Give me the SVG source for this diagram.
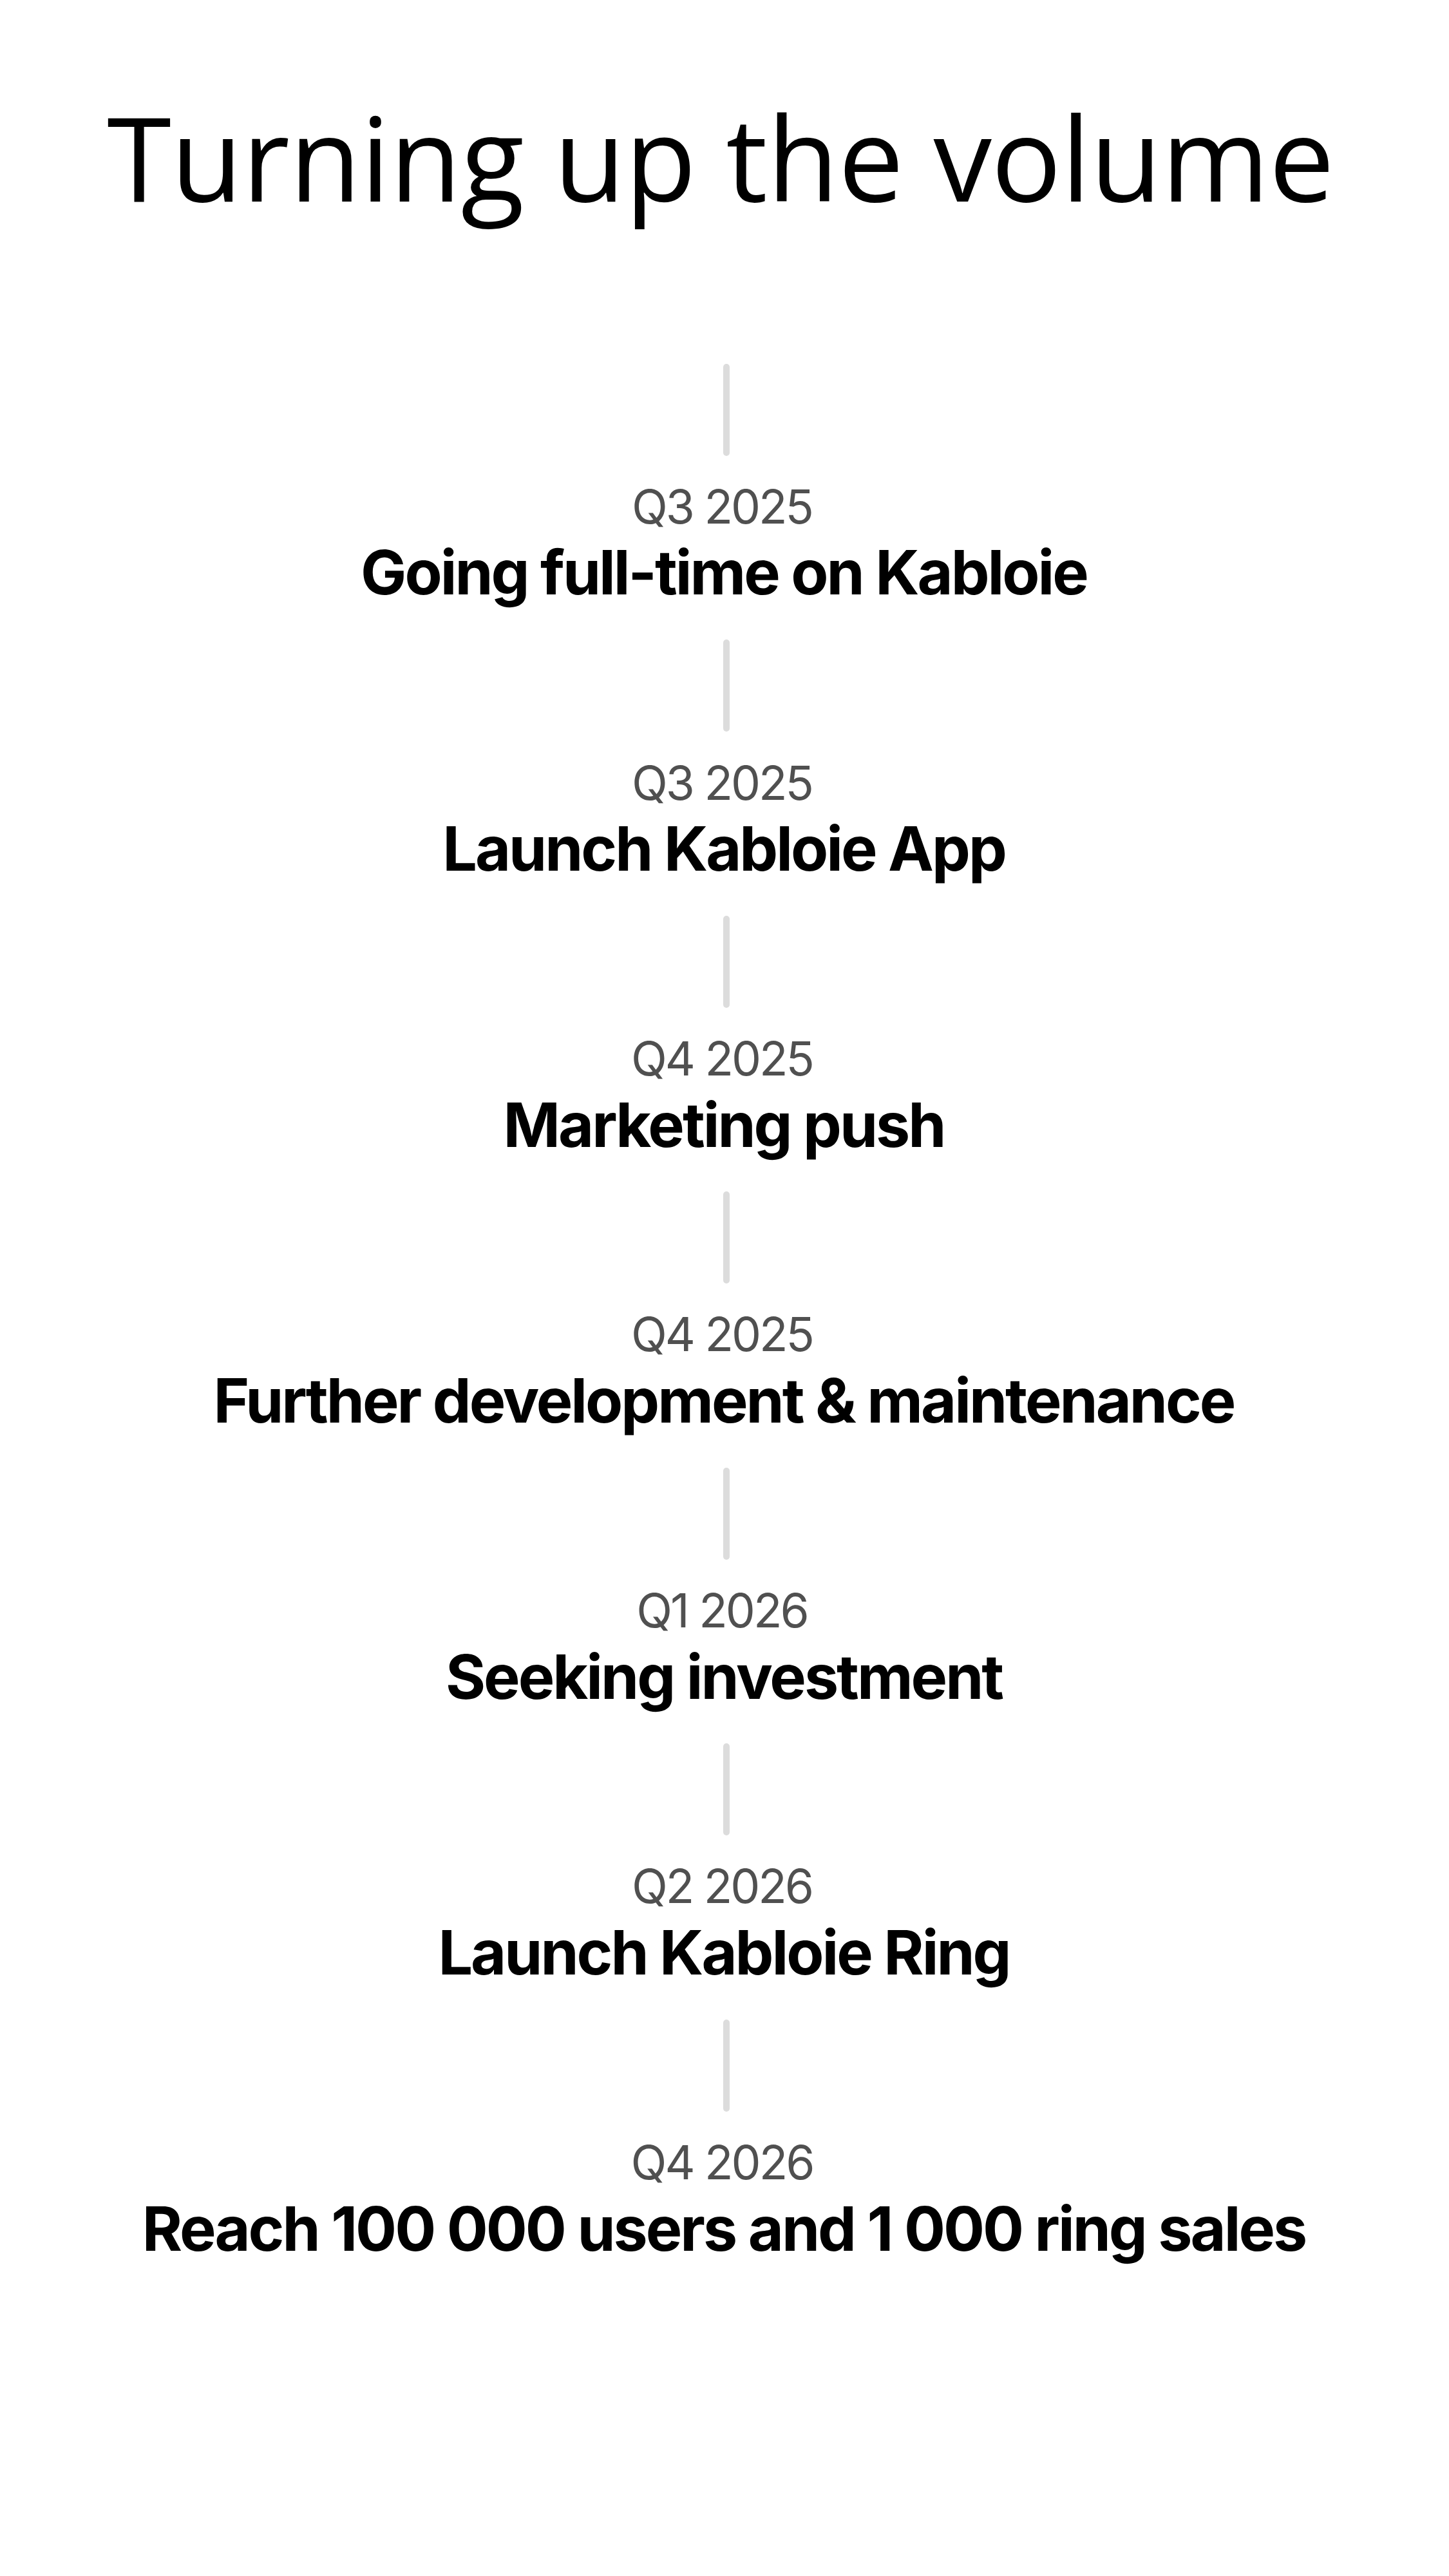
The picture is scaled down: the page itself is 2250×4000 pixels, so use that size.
<svg xmlns="http://www.w3.org/2000/svg" width="2250" height="4000" viewBox="0 0 2250 4000">
  <style>
    .title { font-family: "Open Sans", "Noto Sans", sans-serif; font-size: 181px; font-weight: 400; fill: #000; letter-spacing: -0.5px; }
    .date { font-family: Inter, "Liberation Sans", sans-serif; font-size: 73px; font-weight: 400; fill: #505050; letter-spacing: -3px; }
    .label { font-family: Inter, "Liberation Sans", sans-serif; font-size: 95px; font-weight: 700; fill: #000; letter-spacing: -3px; }
    .link { stroke: #dcdcdc; stroke-width: 10; stroke-linecap: round; fill: none; }
  </style>
  <rect width="2250" height="4000" fill="#fff"/>

  <text class="title" x="1119" y="313" text-anchor="middle">Turning up the volume</text>

  <!-- vertical connectors leading into each milestone -->
  <g id="connectors">
    <line class="link" x1="1128" y1="570" x2="1128" y2="703"/>
    <line class="link" x1="1128" y1="998" x2="1128" y2="1131"/>
    <line class="link" x1="1128" y1="1427" x2="1128" y2="1560"/>
    <line class="link" x1="1128" y1="1855" x2="1128" y2="1988"/>
    <line class="link" x1="1128" y1="2284" x2="1128" y2="2417"/>
    <line class="link" x1="1128" y1="2712" x2="1128" y2="2845"/>
    <line class="link" x1="1128" y1="3141" x2="1128" y2="3274"/>
  </g>

  <g id="m1">
    <text class="date" x="1121" y="813" text-anchor="middle">Q3 2025</text>
    <text class="label" x="1124" y="923" text-anchor="middle">Going full-time on Kabloie</text>
  </g>
  <g id="m2">
    <text class="date" x="1121" y="1242" text-anchor="middle">Q3 2025</text>
    <text class="label" x="1124" y="1352" text-anchor="middle">Launch Kabloie App</text>
  </g>
  <g id="m3">
    <text class="date" x="1121" y="1670" text-anchor="middle">Q4 2025</text>
    <text class="label" x="1124" y="1781" text-anchor="middle">Marketing push</text>
  </g>
  <g id="m4">
    <text class="date" x="1121" y="2098" text-anchor="middle">Q4 2025</text>
    <text class="label" x="1124" y="2209" text-anchor="middle">Further development &amp; maintenance</text>
  </g>
  <g id="m5">
    <text class="date" x="1121" y="2527" text-anchor="middle">Q1 2026</text>
    <text class="label" x="1124" y="2638" text-anchor="middle">Seeking investment</text>
  </g>
  <g id="m6">
    <text class="date" x="1121" y="2955" text-anchor="middle">Q2 2026</text>
    <text class="label" x="1124" y="3066" text-anchor="middle">Launch Kabloie Ring</text>
  </g>
  <g id="m7">
    <text class="date" x="1121" y="3384" text-anchor="middle">Q4 2026</text>
    <text class="label" x="1124" y="3495" text-anchor="middle">Reach 100 000 users and 1 000 ring sales</text>
  </g>
</svg>
